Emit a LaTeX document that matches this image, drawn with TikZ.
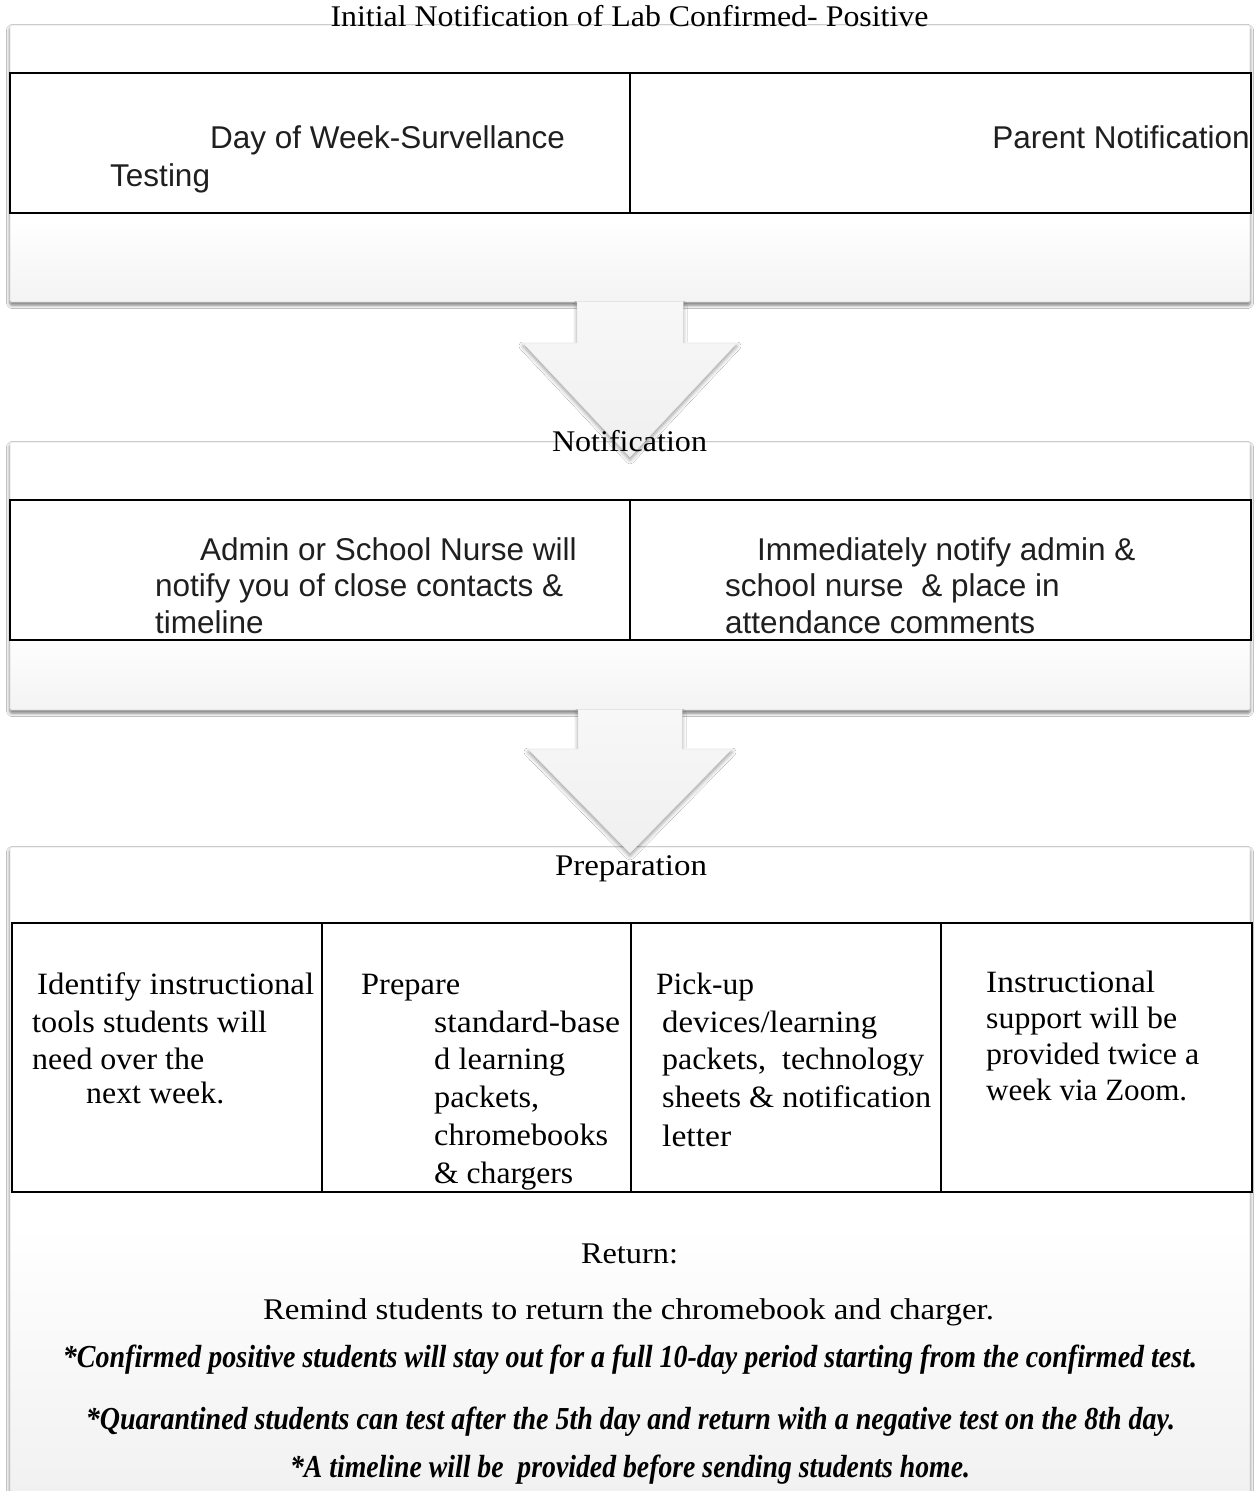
\documentclass[tikz,border=0pt]{standalone}
\usepackage{fontspec}
\setmainfont{Liberation Serif}
\newfontfamily\arialf{Liberation Sans}
\usetikzlibrary{shadows.blur}
\newcommand{\fitto}[2]{\resizebox{#1}{\height}{#2}}
\pgfdeclareverticalshading{boxshadeA}{100bp}{color(0bp)=(gray!9); color(25bp)=(gray!9); color(40bp)=(white); color(100bp)=(white)}
\pgfdeclareverticalshading{boxshadeB}{100bp}{color(0bp)=(gray!12); color(25bp)=(gray!12); color(47bp)=(white); color(100bp)=(white)}
\pgfdeclareverticalshading{arrowshade}{100bp}{color(0bp)=(gray!12); color(25bp)=(gray!12); color(75bp)=(gray!6); color(100bp)=(gray!6)}
\tikzset{
  boxA/.style={draw=gray!28, line width=0.6pt, shading=boxshadeA, rounded corners=1.5pt,
    blur shadow={shadow xshift=0pt, shadow yshift=-3pt, shadow blur radius=3.5pt, shadow opacity=55}},
  boxB/.style={boxA, shading=boxshadeB},
  arrowst/.style={shading=arrowshade,
    blur shadow={shadow xshift=0pt, shadow yshift=-3pt, shadow blur radius=4pt, shadow opacity=40}},
  arrowedge/.style={draw=gray!18, line width=0.5pt, line join=miter},
  tabthin/.style={draw=black, line width=1.6pt},
  tabthick/.style={draw=black, line width=2.5pt},
  ttl/.style={inner sep=0pt, font=\fontsize{30pt}{36pt}\selectfont},
  cell/.style={inner sep=0pt, anchor=base west, font=\fontsize{31pt}{37pt}\selectfont},
  arial/.style={inner sep=0pt, anchor=base west, text=black!88, font=\arialf\fontsize{31.5pt}{37pt}\selectfont},
  itl/.style={inner sep=0pt, anchor=base, font=\fontsize{32pt}{36pt}\selectfont\bfseries\itshape}
}
\begin{document}
\begin{tikzpicture}[x=1pt,y=-1pt]
\clip (0,0) rectangle (1257,1491);
\fill[white] (0,0) rectangle (1257,1491);

% outer boxes
\path[boxA] (10,25) rectangle (1250,302);
\path[boxA] (10,442) rectangle (1250,710);
\path[boxB] (10,847) rectangle (1250,1520);

% tables
\filldraw[tabthin, fill=white] (10,73) rectangle (1251,213);
\draw[tabthin] (630,73) -- (630,213);
\filldraw[tabthin, fill=white] (10,500) rectangle (1251,640);
\draw[tabthin] (630,500) -- (630,640);
\filldraw[tabthick, fill=white] (12,923) rectangle (1252,1192);
\draw[tabthick] (322,923) -- (322,1192);
\draw[tabthick] (631,923) -- (631,1192);
\draw[tabthick] (941,923) -- (941,1192);

% block arrows
\coordinate (ar1a) at (577,302);
\coordinate (ar1b) at (683,302);
\path[arrowst] (ar1a) -- (ar1b) -- (683,343) -- (737,343) -- (630,457) -- (523,343) -- (577,343) -- cycle;
\draw[arrowedge] (ar1b) -- (683,343) -- (737,343) -- (630,457) -- (523,343) -- (577,343) -- (ar1a);
\coordinate (ar2a) at (578,710);
\coordinate (ar2b) at (682,710);
\path[arrowst] (ar2a) -- (ar2b) -- (682,749) -- (732,749) -- (630,853) -- (528,749) -- (578,749) -- cycle;
\draw[arrowedge] (ar2b) -- (682,749) -- (732,749) -- (630,853) -- (528,749) -- (578,749) -- (ar2a);

% titles
\node[ttl, anchor=base] (title1) at (629.5,26) {\fitto{598pt}{Initial Notification of Lab Confirmed- Positive}};
\node[ttl, anchor=base] (title2) at (629.5,451) {\fitto{155pt}{Notification}};
\node[ttl, anchor=base] (title3) at (631,875) {\fitto{152pt}{Preparation}};

% box 1 table texts
\node[arial] (a1) at (210,148) {Day of Week-Survellance};
\node[arial] (a2) at (110,186) {Testing};
\node[arial, anchor=base east] (a3) at (1250,148) {Parent Notification};

% box 2 table texts
\node[arial] (b1) at (200,560) {Admin or School Nurse will};
\node[arial] (b2) at (155,596) {notify you of close contacts \&};
\node[arial] (b3) at (155,633) {timeline};
\node[arial] (b4) at (757,560) {Immediately notify admin \&};
\node[arial] (b5) at (725,596) {school nurse~ \& place in};
\node[arial] (b6) at (725,633) {attendance comments};

% box 3 table texts
\node[cell] (c11) at (37,994) {\fitto{277pt}{Identify instructional}};
\node[cell] (c12) at (32,1032) {\fitto{235pt}{tools students will}};
\node[cell] (c13) at (32,1069) {\fitto{172pt}{need over the}};
\node[cell] (c14) at (86,1103) {\fitto{138pt}{next week.}};

\node[cell] (c21) at (361,994) {\fitto{99pt}{Prepare}};
\node[cell] (c22) at (434,1032) {\fitto{186pt}{standard-base}};
\node[cell] (c23) at (434,1069) {\fitto{131pt}{d learning}};
\node[cell] (c24) at (434,1107) {\fitto{105pt}{packets,}};
\node[cell] (c25) at (434,1145) {\fitto{174pt}{chromebooks}};
\node[cell] (c26) at (434,1183) {\fitto{139pt}{\& chargers}};

\node[cell] (c31) at (656,994) {\fitto{98pt}{Pick-up}};
\node[cell] (c32) at (662,1032) {\fitto{215pt}{devices/learning}};
\node[cell] (c33) at (662,1069) {\fitto{262pt}{packets,~ technology}};
\node[cell] (c34) at (662,1107) {\fitto{269pt}{sheets \& notification}};
\node[cell] (c35) at (662,1146) {\fitto{69pt}{letter}};

\node[cell] (c41) at (986,992) {\fitto{169pt}{Instructional}};
\node[cell] (c42) at (986,1028) {\fitto{191pt}{support will be}};
\node[cell] (c43) at (986,1064) {\fitto{213pt}{provided twice a}};
\node[cell] (c44) at (986,1100) {\fitto{201pt}{week via Zoom.}};

% return section
\node[ttl, anchor=base] (ret) at (629.5,1263) {\fitto{97pt}{Return:}};
\node[ttl, anchor=base] (remind) at (628.5,1319) {\fitto{731pt}{Remind students to return the chromebook and charger.}};
\node[itl] (note1) at (630,1367) {\fitto{1134pt}{*Confirmed positive students will stay out for a full 10-day period starting from the confirmed test.}};
\node[itl] (note2) at (630.5,1429) {\fitto{1089pt}{*Quarantined students can test after the 5th day and return with a negative test on the 8th day.}};
\node[itl] (note3) at (630,1477) {\fitto{680pt}{*A timeline will be~ provided before sending students home.}};
\end{tikzpicture}
\end{document}
